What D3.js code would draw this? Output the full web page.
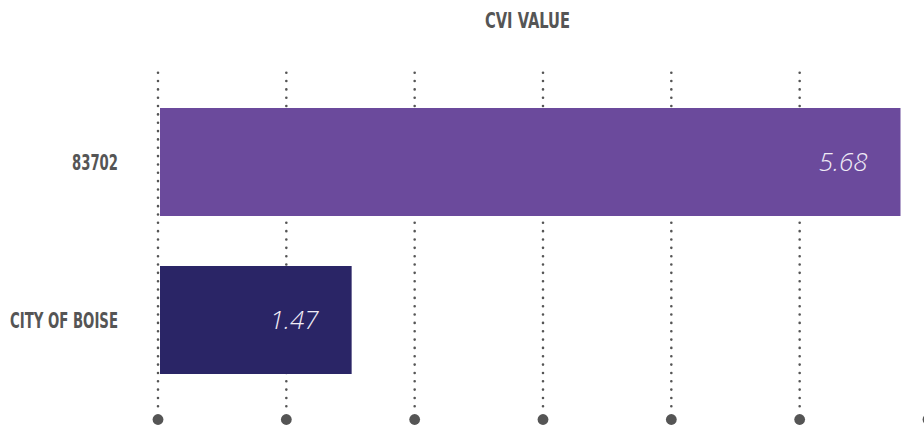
<!DOCTYPE html>
<html>
<head>
<meta charset="utf-8">
<script src="https://cdn.jsdelivr.net/npm/d3@7"></script>
<style>
  body { margin: 0; background: #fff; }
  svg { display: block; }
</style>
</head>
<body>
<div id="chart"></div>
<script>
/* global d3 */

var categories = ['83702', 'CITY OF BOISE'];
var values = [5.68, 1.47];
var barColors = ['#6b4a9c', '#2a2566'];
var gridTicks = [0, 1, 2, 3, 4, 5, 6];
var axisTitle = 'CVI VALUE';

var WIDTH = 924;
var HEIGHT = 426;

// the original uses a condensed gothic face; squeeze DejaVu to the same widths
var LABEL_WIDTH = { '83702': 46, 'CITY OF BOISE': 108 };
var TITLE_WIDTH = 85;

var svg = d3.select('#chart')
  .append('svg')
  .attr('width', WIDTH)
  .attr('height', HEIGHT);

// bars and grid don't share the same step in the original
var x = d3.scaleLinear().domain([0, 5.68]).range([160, 900.5]);
var xGrid = d3.scaleLinear().domain([0, 6]).range([158, 928]);
var y = d3.scaleBand()
  .domain(categories)
  .range([108, 374])
  .paddingInner(50 / 158)
  .paddingOuter(0);

var labelFont = '"DejaVu Sans Condensed", "DejaVu Sans", sans-serif';

svg.append('text')
  .attr('x', 485)
  .attr('y', 28)
  .attr('textLength', TITLE_WIDTH)
  .attr('lengthAdjust', 'spacingAndGlyphs')
  .attr('font-family', labelFont)
  .attr('font-stretch', 'condensed')
  .attr('font-weight', 'bold')
  .attr('font-size', '21px')
  .attr('fill', '#555')
  .text(axisTitle);

// dotted grid lines with a dot at the foot
var grid = svg.append('g').attr('class', 'grid');

grid.selectAll('line')
  .data(gridTicks)
  .enter()
  .append('line')
  .attr('x1', function(d) { return xGrid(d); })
  .attr('x2', function(d) { return xGrid(d); })
  .attr('y1', 72.7)
  .attr('y2', 407)
  .attr('stroke', '#555')
  .attr('stroke-width', 2.6)
  .attr('stroke-linecap', 'round')
  .attr('stroke-dasharray', '0,8.34');

grid.selectAll('circle')
  .data(gridTicks)
  .enter()
  .append('circle')
  .attr('cx', function(d) { return xGrid(d); })
  .attr('cy', 419.5)
  .attr('r', 5.4)
  .attr('fill', '#555');

var rows = svg.selectAll('g.row')
  .data(categories)
  .enter()
  .append('g')
  .attr('class', 'row');

rows.append('rect')
  .attr('x', x(0))
  .attr('y', function(d) { return y(d); })
  .attr('width', function(d, i) { return x(values[i]) - x(0); })
  .attr('height', y.bandwidth())
  .attr('fill', function(d, i) { return barColors[i]; });

rows.append('text')
  .attr('x', function(d) { return 118 - LABEL_WIDTH[d]; })
  .attr('y', function(d) { return y(d) + y.bandwidth() / 2; })
  .attr('dy', '0.36em')
  .attr('textLength', function(d) { return LABEL_WIDTH[d]; })
  .attr('lengthAdjust', 'spacingAndGlyphs')
  .attr('font-family', labelFont)
  .attr('font-stretch', 'condensed')
  .attr('font-weight', 'bold')
  .attr('font-size', '21px')
  .attr('fill', '#555')
  .text(function(d) { return d; });

rows.append('text')
  .attr('x', function(d, i) { return x(values[i]) - 33; })
  .attr('y', function(d) { return y(d) + y.bandwidth() / 2; })
  .attr('dy', '0.36em')
  .attr('text-anchor', 'end')
  .attr('font-family', '"Open Sans", sans-serif')
  .attr('font-style', 'italic')
  .attr('font-weight', 300)
  .attr('font-size', '26px')
  .attr('fill', '#f0ecf6')
  .text(function(d, i) { return values[i].toFixed(2); });
</script>
</body>
</html>
